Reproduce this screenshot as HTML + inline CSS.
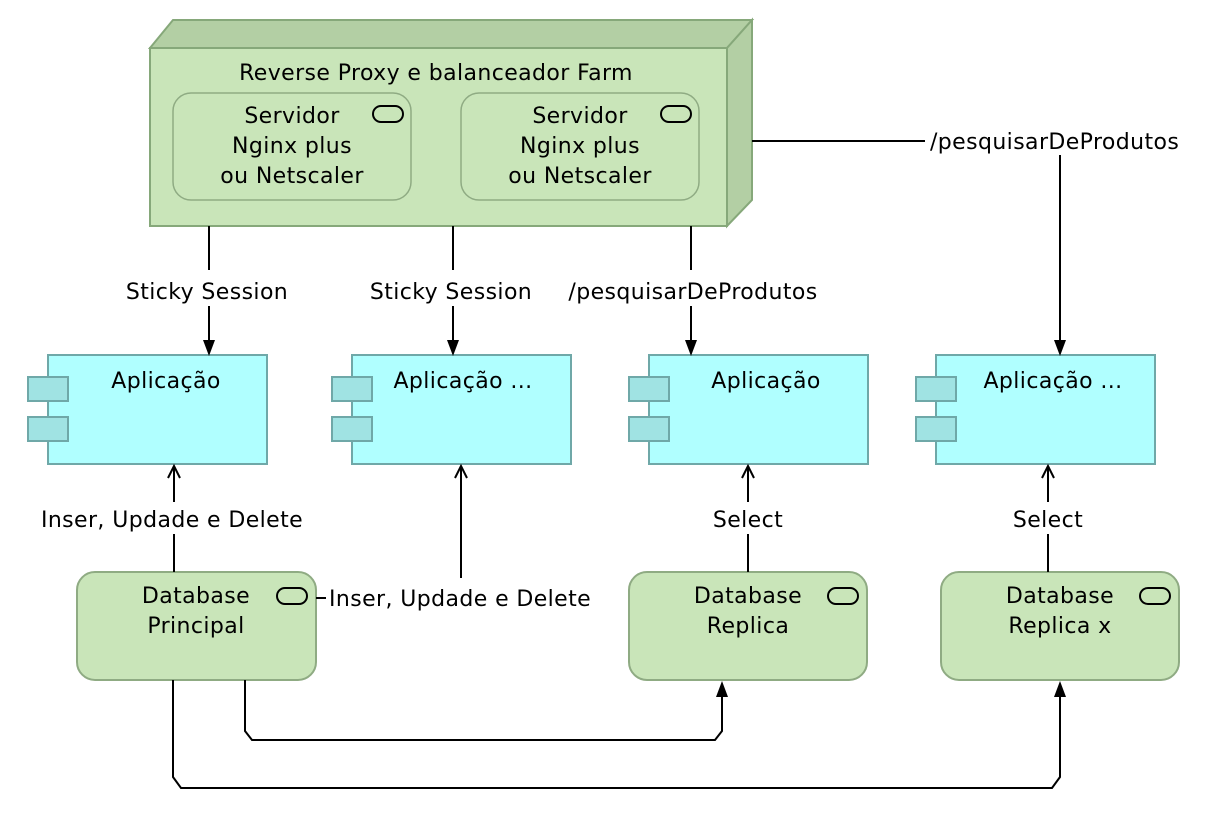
<!DOCTYPE html>
<html><head><meta charset="utf-8"><style>
html,body{margin:0;padding:0;background:#fff}
svg{display:block}
text{font-family:"DejaVu Sans","Liberation Sans",sans-serif;font-size:22px;letter-spacing:0.4px;fill:#000}
</style></head><body>
<svg width="1232" height="830" viewBox="0 0 1232 830" xmlns="http://www.w3.org/2000/svg">
<polygon points="150,48 173,20 752,20 727,48" fill="#b3cfa4" stroke="#86a87a" stroke-width="2"/>
<polygon points="727,48 752,20 752,200 727,226" fill="#b3cfa4" stroke="#86a87a" stroke-width="2"/>
<rect x="150" y="48" width="577" height="178" fill="#c9e5b9" stroke="#86a87a" stroke-width="2"/>
<text x="436" y="80" text-anchor="middle">Reverse Proxy e balanceador Farm</text>
<rect x="173" y="93" width="238" height="107" rx="18" fill="#c9e5b9" stroke="#8fab83" stroke-width="1.5"/>
<rect x="373" y="106" width="30" height="16" rx="8" fill="none" stroke="#000" stroke-width="2"/>
<text x="292" y="123" text-anchor="middle">Servidor</text>
<text x="292" y="153" text-anchor="middle">Nginx plus</text>
<text x="292" y="183" text-anchor="middle">ou Netscaler</text>
<rect x="461" y="93" width="238" height="107" rx="18" fill="#c9e5b9" stroke="#8fab83" stroke-width="1.5"/>
<rect x="661" y="106" width="30" height="16" rx="8" fill="none" stroke="#000" stroke-width="2"/>
<text x="580" y="123" text-anchor="middle">Servidor</text>
<text x="580" y="153" text-anchor="middle">Nginx plus</text>
<text x="580" y="183" text-anchor="middle">ou Netscaler</text>

<g fill="#b0ffff" stroke="#6fa8a8" stroke-width="2">
<rect x="48" y="355" width="219" height="109"/>
<rect x="352" y="355" width="219" height="109"/>
<rect x="649" y="355" width="219" height="109"/>
<rect x="936" y="355" width="219" height="109"/>
</g>
<g fill="#a0e3e3" stroke="#6fa8a8" stroke-width="2">
<rect x="28" y="377" width="40" height="24"/><rect x="28" y="417" width="40" height="24"/>
<rect x="332" y="377" width="40" height="24"/><rect x="332" y="417" width="40" height="24"/>
<rect x="629" y="377" width="40" height="24"/><rect x="629" y="417" width="40" height="24"/>
<rect x="916" y="377" width="40" height="24"/><rect x="916" y="417" width="40" height="24"/>
</g>
<text x="166" y="388" text-anchor="middle">Aplicação</text>
<text x="463" y="388" text-anchor="middle">Aplicação ...</text>
<text x="766" y="388" text-anchor="middle">Aplicação</text>
<text x="1053" y="388" text-anchor="middle">Aplicação ...</text>

<g fill="#c9e5b9" stroke="#8fab83" stroke-width="2">
<rect x="77" y="572" width="239" height="108" rx="18"/>
<rect x="629" y="572" width="238" height="108" rx="18"/>
<rect x="941" y="572" width="238" height="108" rx="18"/>
</g>
<g fill="none" stroke="#000" stroke-width="2">
<rect x="277" y="588" width="30" height="16" rx="8"/>
<rect x="828" y="588" width="30" height="16" rx="8"/>
<rect x="1140" y="588" width="30" height="16" rx="8"/>
</g>
<text x="196" y="603" text-anchor="middle">Database</text>
<text x="196" y="633" text-anchor="middle">Principal</text>
<text x="748" y="603" text-anchor="middle">Database</text>
<text x="748" y="633" text-anchor="middle">Replica</text>
<text x="1060" y="603" text-anchor="middle">Database</text>
<text x="1060" y="633" text-anchor="middle">Replica x</text>

<g stroke="#000" stroke-width="2" fill="none">
<line x1="209" y1="226" x2="209" y2="270"/><line x1="209" y1="306" x2="209" y2="342"/>
<line x1="453" y1="226" x2="453" y2="270"/><line x1="453" y1="306" x2="453" y2="342"/>
<line x1="691" y1="226" x2="691" y2="270"/><line x1="691" y1="306" x2="691" y2="342"/>
<line x1="752" y1="141" x2="925" y2="141"/>
<line x1="1060" y1="155" x2="1060" y2="342"/>
<line x1="174" y1="572" x2="174" y2="534"/><line x1="174" y1="502" x2="174" y2="466"/>
<polyline points="168,478 174,466 180,478"/>
<line x1="316" y1="598" x2="326" y2="598"/>
<line x1="461" y1="578" x2="461" y2="466"/>
<polyline points="455,478 461,466 467,478"/>
<line x1="748" y1="572" x2="748" y2="534"/><line x1="748" y1="502" x2="748" y2="466"/>
<polyline points="742,478 748,466 754,478"/>
<line x1="1048" y1="572" x2="1048" y2="534"/><line x1="1048" y1="502" x2="1048" y2="466"/>
<polyline points="1042,478 1048,466 1054,478"/>
<polyline points="245,680 245,731 252,740 715,740 722,731 722,696"/>
<polyline points="173,680 173,777 181,788 1052,788 1060,777 1060,696"/>
</g>
<g fill="#000">
<polygon points="203,340 215,340 209,356"/>
<polygon points="447,340 459,340 453,356"/>
<polygon points="685,340 697,340 691,356"/>
<polygon points="1054,340 1066,340 1060,356"/>
<polygon points="716,697 728,697 722,681"/>
<polygon points="1054,697 1066,697 1060,681"/>
</g>
<text x="207" y="299" text-anchor="middle">Sticky Session</text>
<text x="451" y="299" text-anchor="middle">Sticky Session</text>
<text x="693" y="299" text-anchor="middle">/pesquisarDeProdutos</text>
<text x="930" y="149">/pesquisarDeProdutos</text>
<text x="172" y="527" text-anchor="middle">Inser, Updade e Delete</text>
<text x="329" y="606">Inser, Updade e Delete</text>
<text x="748" y="527" text-anchor="middle">Select</text>
<text x="1048" y="527" text-anchor="middle">Select</text>
</svg>
</body></html>
